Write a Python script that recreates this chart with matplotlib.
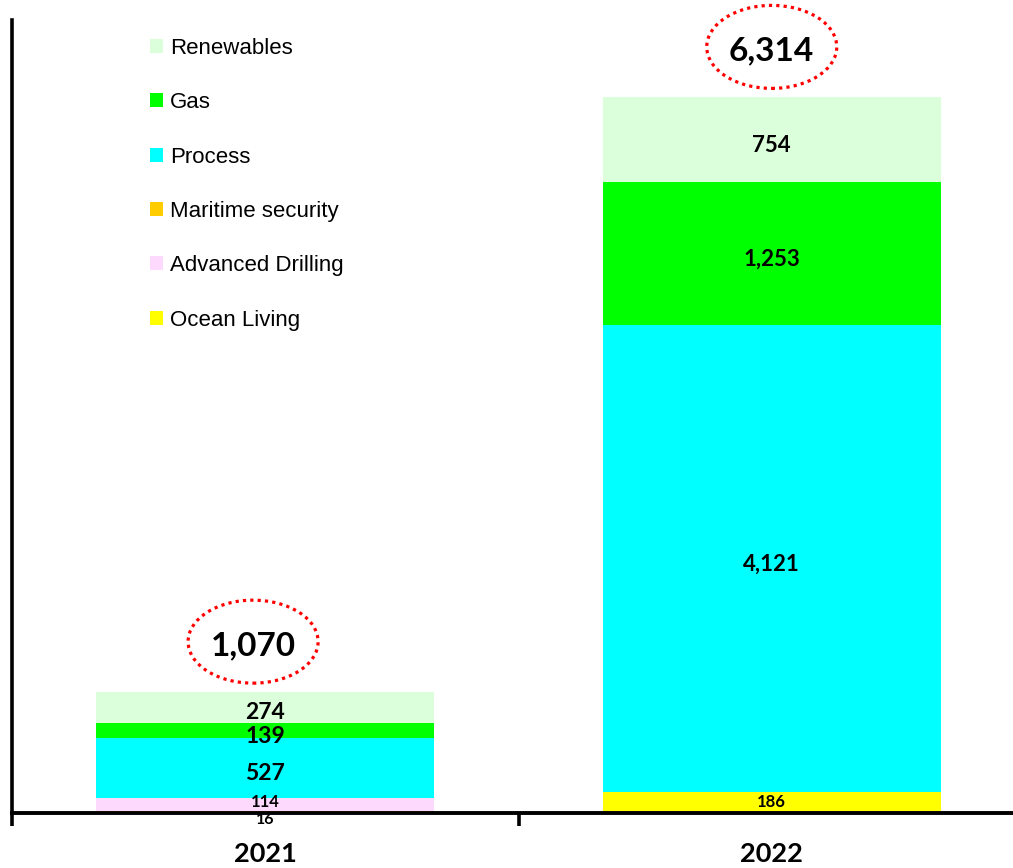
import matplotlib
matplotlib.use("Agg")
import matplotlib.pyplot as plt
from matplotlib.patches import Patch, Ellipse
from matplotlib.transforms import ScaledTranslation
from matplotlib import font_manager as fm

years = ["2021", "2022"]
series_names = ["Ocean Living", "Advanced Drilling", "Maritime security", "Process", "Gas", "Renewables"]
ocean_living = [16, 186]
advanced_drilling = [114, 0]
maritime_security = [0, 0]
process = [527, 4121]
gas = [139, 1253]
renewables = [274, 754]
totals = [1070, 6314]

series_values = [ocean_living, advanced_drilling, maritime_security, process, gas, renewables]
colors = ["#FFFF00", "#FDD9FD", "#FFCC00", "#00FFFF", "#00FF00", "#DAFFDA"]

names = {f.name for f in fm.fontManager.ttflist}
num_font = "Lato" if "Lato" in names else "DejaVu Sans"
leg_font = "Liberation Sans Narrow" if "Liberation Sans Narrow" in names else "Liberation Sans"

W, H = 1013, 868
fig = plt.figure(figsize=(W / 100, H / 100), dpi=100)
ax = fig.add_axes([12 / W, 55 / H, 1.0, 793 / H])

x = list(range(len(years)))
width = 0.668
bottoms = [0.0] * len(years)
for name, vals, col in zip(series_names, series_values, colors):
    ax.bar(x, vals, width, bottom=bottoms, color=col, edgecolor="none", label=name, zorder=2)
    for i, v in enumerate(vals):
        if v <= 0:
            continue
        if v < 50:
            ax.annotate(f"{v:,}", xy=(i, bottoms[i]), xytext=(0, 0), textcoords="offset points",
                        ha="center", va="top", fontsize=11.5, fontweight="bold",
                        family=num_font, annotation_clip=False, zorder=4)
        elif v < 250 and name != "Gas":
            dy = 2 if name == "Advanced Drilling" else 0
            ax.annotate(f"{v:,}", xy=(i, bottoms[i] + v / 2), xytext=(0, dy), textcoords="offset points",
                        ha="center", va="center", fontsize=12, fontweight="bold",
                        family=num_font, zorder=4)
        else:
            fs = 16.5 if i == 0 else 16
            ax.annotate(f"{v:,}", xy=(i, bottoms[i] + v / 2), xytext=(0, -4), textcoords="offset points",
                        ha="center", va="center", fontsize=fs, fontweight="bold",
                        family=num_font, zorder=4)
    bottoms = [b + v for b, v in zip(bottoms, vals)]

for i, t in enumerate(totals):
    dx = -0.024 if i == 0 else 0.0
    ax.annotate(f"{t:,}", xy=(i + dx, t), xytext=(0, 33), textcoords="offset points",
                ha="center", va="center", fontsize=24, fontweight="bold", family=num_font, zorder=5)
    tr = fig.dpi_scale_trans + ScaledTranslation(i + dx, t, ax.transData)
    ell = Ellipse((0, 0.50), 1.30, 0.83, transform=tr, facecolor="none", edgecolor="red",
                  linestyle=(0, (1, 1.3)), linewidth=2.3, clip_on=False, zorder=5)
    ax.add_artist(ell)

ax.set_xlim(-0.5, 1.478)
ax.set_ylim(0, 6992)
ax.spines["top"].set_visible(False)
ax.spines["right"].set_visible(False)
ax.spines["left"].set_linewidth(2.6)
ax.spines["bottom"].set_linewidth(2.8)
ax.set_yticks([])
ax.set_xticks(x)
ax.set_xticklabels(years, fontsize=19.5, fontweight="bold", family=num_font)
ax.tick_params(axis="x", which="major", length=0, pad=21)
ax.set_xticks([-0.5, 0.5, 1.5], minor=True)
ax.tick_params(axis="x", which="minor", length=9, width=2.6, direction="out")

handles = [Patch(facecolor=c, edgecolor="none", label=n) for n, c in zip(series_names, colors)][::-1]
ax.legend(handles=handles, loc="upper left", bbox_to_anchor=(0.121, 0.997), frameon=False,
          prop={"family": leg_font, "size": 16}, handlelength=0.6, handleheight=0.6,
          handletextpad=0.3, labelspacing=1.5, borderaxespad=0.3)

fig.savefig("out.png", dpi=100)
